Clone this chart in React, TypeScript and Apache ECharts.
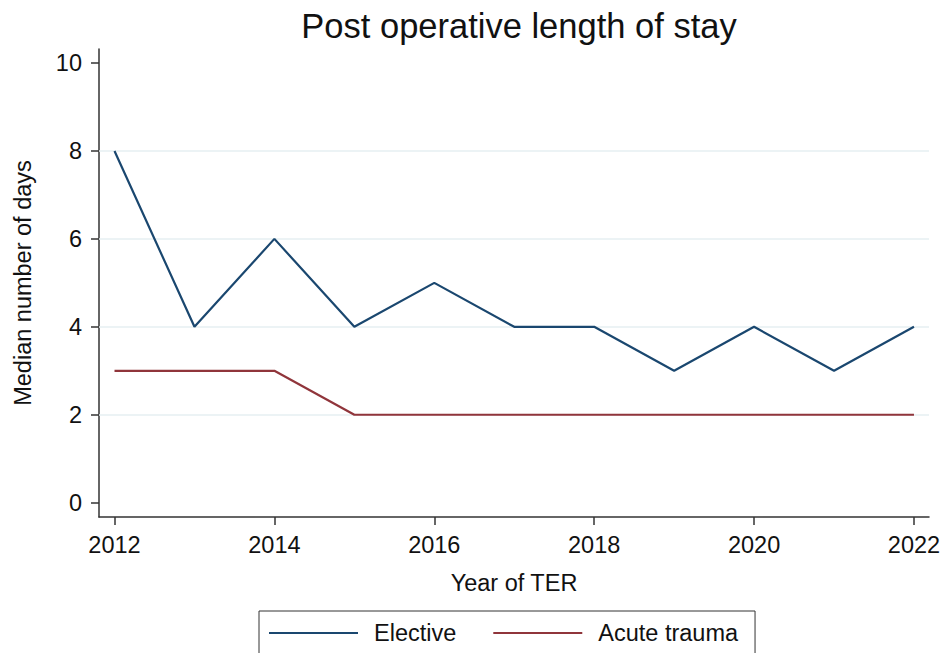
import React, { useEffect, useRef } from "react";
import * as echarts from "echarts";

const years = [2012, 2013, 2014, 2015, 2016, 2017, 2018, 2019, 2020, 2021, 2022];
const elective = [8, 4, 6, 4, 5, 4, 4, 3, 4, 3, 4];
const acuteTrauma = [3, 3, 3, 2, 2, 2, 2, 2, 2, 2, 2];
const xTicks = [2012, 2014, 2016, 2018, 2020, 2022];
const yTicks = [0, 2, 4, 6, 8, 10];
const gridValues = [2, 4, 6, 8];

const FONT = "'Liberation Sans', Arial, Helvetica, sans-serif";

export default function App() {
  const ref = useRef<HTMLDivElement>(null);
  useEffect(() => {
    if (!ref.current) return;
    const chart = echarts.init(ref.current, undefined, { renderer: "svg" });
    const axisCommon = {
      axisLine: { show: true, onZero: false, lineStyle: { color: "#333", width: 1.5 } },
      axisTick: { show: true, inside: false, length: 8, lineStyle: { color: "#333", width: 1.5 } },
      splitLine: { show: false },
      nameTextStyle: { fontFamily: FONT, fontSize: 23.5, color: "#111" },
    };
    chart.setOption({
      animation: false,
      backgroundColor: "#fff",
      textStyle: { fontFamily: FONT },
      title: {
        text: "Post operative length of stay",
        left: 514,
        textAlign: "center",
        top: 3,
        textStyle: { fontFamily: FONT, fontSize: 34.5, fontWeight: "normal", color: "#111" },
      },
      grid: { left: 99, top: 49, right: 17, bottom: 136, containLabel: false },
      legend: {
        left: 259,
        top: 611,
        orient: "horizontal",
        padding: [10, 17, 20, 10],
        borderColor: "#333",
        borderWidth: 1,
        itemGap: 37,
        itemWidth: 89,
        itemHeight: 2,
        icon: "rect",
        textStyle: { fontFamily: FONT, fontSize: 23.5, color: "#111", padding: [0, 0, 0, 11] },
        data: ["Elective", "Acute trauma"],
      },
      xAxis: {
        type: "value",
        min: 2011.806,
        max: 2022.188,
        name: "Year of TER",
        nameLocation: "middle",
        nameGap: 54,
        ...axisCommon,
        axisTick: { ...axisCommon.axisTick, customValues: xTicks },
        axisLabel: {
          customValues: xTicks,
          fontFamily: FONT,
          fontSize: 23.5,
          color: "#111",
          margin: 16,
          formatter: (v: number) => String(v),
        },
      },
      yAxis: {
        type: "value",
        min: -0.325,
        max: 10.318,
        name: "Median number of days",
        nameLocation: "middle",
        nameGap: 64,
        nameRotate: 90,
        ...axisCommon,
        axisTick: { ...axisCommon.axisTick, customValues: yTicks },
        axisLabel: {
          customValues: yTicks,
          fontFamily: FONT,
          fontSize: 23.5,
          color: "#111",
          margin: 17,
          formatter: (v: number) => String(v),
        },
      },
      series: [
        {
          type: "line",
          name: "grid",
          data: [],
          silent: true,
          z: 1,
          markLine: {
            silent: true,
            z: 1,
            symbol: "none",
            label: { show: false },
            lineStyle: { color: "#e6eff2", width: 1.5, type: "solid" },
            data: gridValues.map((v) => ({ yAxis: v })),
          },
        },
        {
          type: "line",
          name: "Elective",
          data: years.map((y, i) => [y, elective[i]]),
          showSymbol: false,
          symbol: "none",
          color: "#1a476f",
          lineStyle: { color: "#1a476f", width: 2.2 },
          z: 5,
        },
        {
          type: "line",
          name: "Acute trauma",
          data: years.map((y, i) => [y, acuteTrauma[i]]),
          showSymbol: false,
          symbol: "none",
          color: "#90353b",
          lineStyle: { color: "#90353b", width: 2.2 },
          z: 5,
        },
      ],
    });
    return () => chart.dispose();
  }, []);
  return (
    <div
      ref={ref}
      style={{ position: "fixed", left: 0, top: 0, width: 946, height: 653, background: "#fff" }}
    />
  );
}
